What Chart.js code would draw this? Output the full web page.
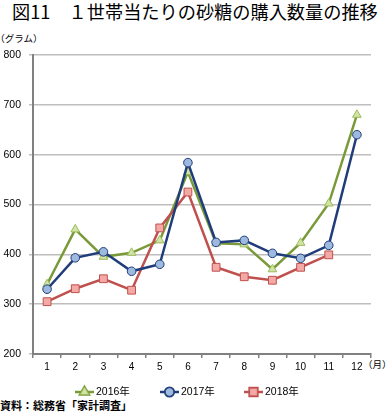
<!DOCTYPE html>
<html lang="ja">
<head>
<meta charset="UTF-8">
<title>図11 1世帯当たりの砂糖の購入数量の推移</title>
<script src="https://cdn.jsdelivr.net/npm/chart.js"></script>
<style>
  body { margin: 0; background: #fff; width: 388px; height: 419px; position: relative; overflow: hidden;
         font-family: 'Noto Sans CJK JP', 'Liberation Sans', sans-serif; color: #000; }
  #chart { position: absolute; left: 0; top: 0; }
  .txt { position: absolute; white-space: nowrap; line-height: 1; }
  #title { left: 12px; top: 2px; font-size: 18.2px; font-weight: 400; }
  #unit { left: 0; top: 34px; font-size: 9.5px; font-feature-settings: "halt"; }
  #month { left: 363px; top: 360px; font-size: 9.5px; }
  #source { left: 0; top: 400px; font-size: 11px; font-weight: 700; }
</style>
</head>
<body>
<div class="txt" id="title">図11　１世帯当たりの砂糖の購入数量の推移</div>
<div class="txt" id="unit">（グラム）</div>
<div class="txt" id="month">（月）</div>
<div class="txt" id="source">資料：総務省「家計調査」</div>
<canvas id="chart" width="388" height="419"></canvas>

<script>
// データ
const months = ['1', '2', '3', '4', '5', '6', '7', '8', '9', '10', '11', '12'];
const seriesNames = ['2016年', '2017年', '2018年'];
const v2016 = [340, 450, 395, 403, 428, 565, 422, 420, 370, 423, 502, 680];
const v2017 = [330, 393, 405, 366, 380, 584, 424, 428, 402, 392, 418, 640];
const v2018 = [305, 331, 351, 328, 453, 525, 374, 355, 348, 374, 399, null];
const yTicks = [200, 300, 400, 500, 600, 700, 800];

// 凡例（線＋マーカー）を自前で描く
const legendLine = {
  id: 'legendLine',
  afterDraw(chart) {
    const ctx = chart.ctx;
    const xs = [75, 160, 244];
    const y = 392;
    chart.data.datasets.forEach((ds, i) => {
      const x0 = xs[i];
      ctx.save();
      ctx.strokeStyle = ds.borderColor;
      ctx.lineWidth = 2.5;
      ctx.beginPath();
      ctx.moveTo(x0, y);
      ctx.lineTo(x0 + 19, y);
      ctx.stroke();
      Chart.helpers.drawPoint(ctx, {
        pointStyle: ds.pointStyle,
        radius: ds.pointRadius,
        rotation: 0,
        borderWidth: ds.pointBorderWidth
      }, x0 + 9.5, y);
      ctx.fillStyle = ds.pointBackgroundColor;
      ctx.strokeStyle = ds.pointBorderColor;
      ctx.lineWidth = ds.pointBorderWidth;
      ctx.fill();
      ctx.stroke();
      ctx.fillStyle = '#000';
      ctx.font = "10.5px 'Liberation Sans', 'Noto Sans CJK JP'";
      ctx.textBaseline = 'middle';
      ctx.fillText(ds.label, x0 + 21, y + 0.5);
      ctx.restore();
    });
  }
};

const ctx = document.getElementById('chart').getContext('2d');
new Chart(ctx, {
  type: 'line',
  data: {
    labels: months,
    datasets: [
      {
        label: seriesNames[0], data: v2016, order: 2,
        borderColor: '#7A9A3A', borderWidth: 2.5,
        pointStyle: 'triangle', pointRadius: 5,
        pointBackgroundColor: '#D2E3A6', pointBorderColor: '#9BBB59', pointBorderWidth: 1
      },
      {
        label: seriesNames[1], data: v2017, order: 0,
        borderColor: '#1F3D7A', borderWidth: 2.5,
        pointStyle: 'circle', pointRadius: 4.3,
        pointBackgroundColor: '#9DB9E0', pointBorderColor: '#1F3D7A', pointBorderWidth: 1
      },
      {
        label: seriesNames[2], data: v2018, order: 1,
        borderColor: '#C0504D', borderWidth: 2.5,
        pointStyle: 'rect', pointRadius: 5.5,
        pointBackgroundColor: '#F3A9A6', pointBorderColor: '#C0504D', pointBorderWidth: 1
      }
    ]
  },
  options: {
    responsive: false,
    animation: false,
    layout: { padding: { top: 55, right: 17, bottom: 35, left: 0 } },
    plugins: {
      legend: { display: false },
      tooltip: { enabled: false }
    },
    elements: { line: { tension: 0 } },
    scales: {
      x: {
        type: 'category',
        offset: true,
        grid: { display: true, drawOnChartArea: false, offset: true, tickLength: 4, color: '#808080', lineWidth: 1.5 },
        border: { color: '#808080', width: 2 },
        ticks: { color: '#000', font: { family: "'Liberation Sans'", size: 10 }, padding: 3, maxRotation: 0, autoSkip: false },
        afterFit: s => { s.height = 30; }
      },
      y: {
        min: 200,
        max: 800,
        afterBuildTicks: s => { s.ticks = yTicks.map(v => ({ value: v })); },
        grid: { color: '#BEBEBE', lineWidth: 1.5, tickLength: 4 },
        border: { color: '#808080', width: 2 },
        ticks: { color: '#000', font: { family: "'Liberation Sans'", size: 10.5 }, padding: 8 },
        afterFit: s => { s.width = 33; }
      }
    }
  },
  plugins: [legendLine]
});
</script>
</body>
</html>
